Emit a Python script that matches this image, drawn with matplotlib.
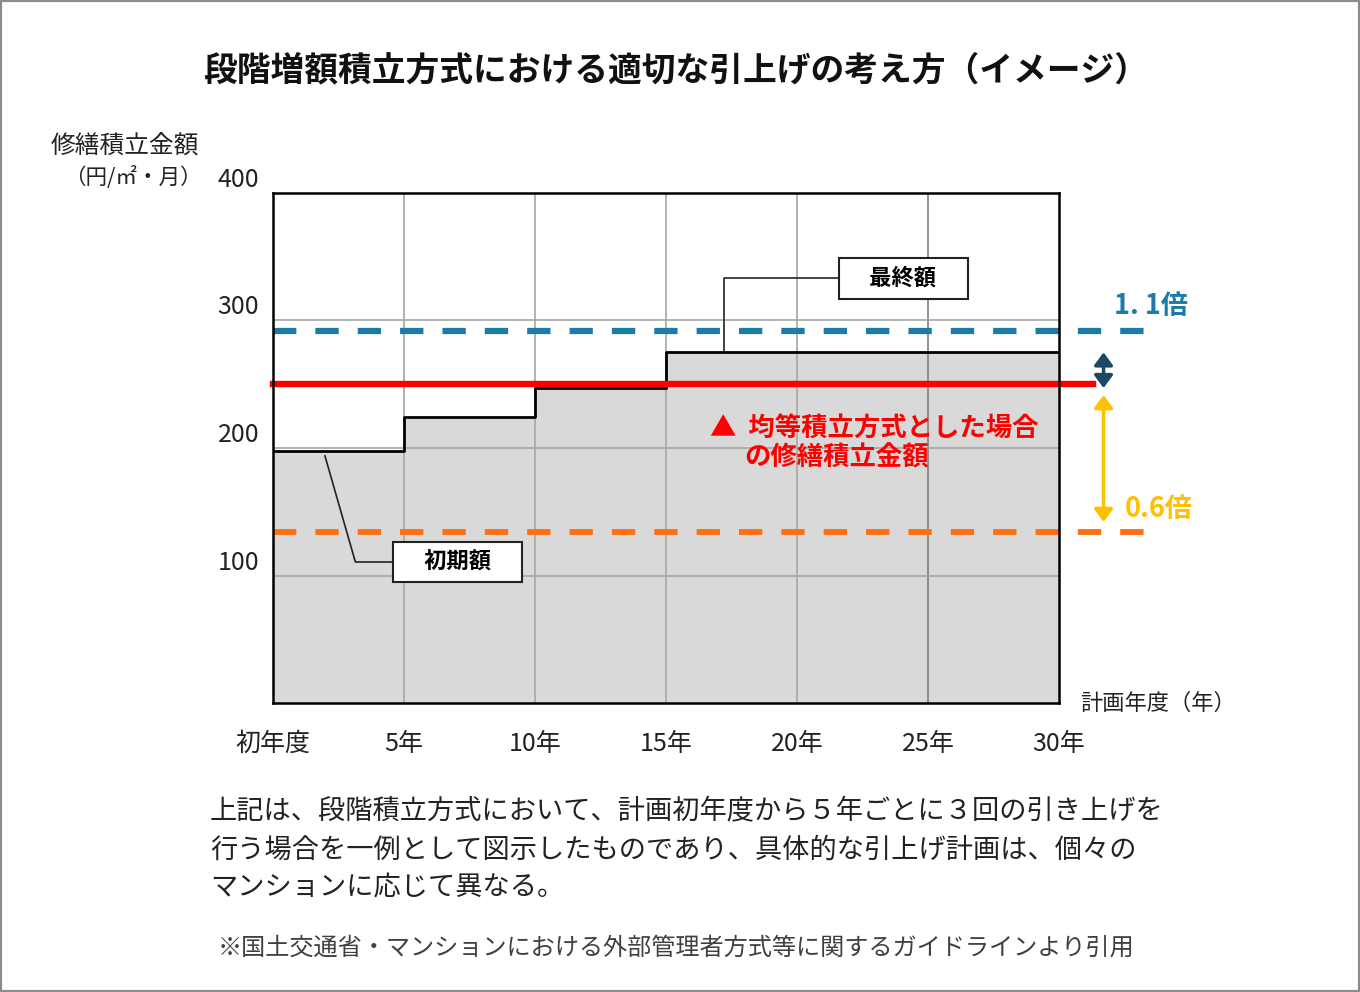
import matplotlib.pyplot as plt
from matplotlib.patches import Rectangle

plt.rcParams["font.family"] = ["Noto Sans CJK JP", "DejaVu Sans"]
plt.rcParams["lines.scale_dashes"] = False

# data
years = [0, 5, 10, 15, 30]
stepped_amount = [198, 224, 247, 275, 275]
equal_amount = 250
upper_level = 292   # 1.1倍
lower_level = 134   # 0.6倍
x_ticks = [0, 5, 10, 15, 20, 25, 30]
x_labels = ["初年度", "5年", "10年", "15年", "20年", "25年", "30年"]
y_ticks = [100, 200, 300, 400]
y_labels = ["100", "200", "300", "400"]

title = "段階増額積立方式における適切な引上げの考え方（イメージ）"
note_lines = [
    "上記は、段階積立方式において、計画初年度から５年ごとに３回の引き上げを",
    "行う場合を一例として図示したものであり、具体的な引上げ計画は、個々の",
    "マンションに応じて異なる。",
]
source = "※国土交通省・マンションにおける外部管理者方式等に関するガイドラインより引用"

BLUE = "#1c7ca5"
ORANGE = "#ff6f0f"
RED = "#ff0000"
YELLOW = "#ffc000"
NAVY = "#1b4965"

fig = plt.figure(figsize=(13.6, 9.92), dpi=100)
ax = fig.add_axes([273 / 1360, 1 - 703 / 992, 786 / 1360, 510 / 992])
ax.set_xlim(0, 30)
ax.set_ylim(0, 400)

# stepped amount
ax.fill_between(years, stepped_amount, step="post", color="#d9d9d9", zorder=1)
ax.step(years, stepped_amount, where="post", color="black", lw=2, zorder=4)

# grid
for x in x_ticks[1:-1]:
    ax.axvline(x, color="#7f7f7f" if x == 25 else "#a6a6a6", lw=1.2, zorder=2)
for y in y_ticks[:-1]:
    ax.axhline(y, color="#a6a6a6", lw=1.2, zorder=2)

# reference lines, extended past the right edge
ax.plot([0, 33.3], [upper_level] * 2, color=BLUE, lw=4.5, dashes=(16.8, 13.7),
        clip_on=False, zorder=5)
ax.plot([0, 33.3], [lower_level] * 2, color=ORANGE, lw=4.2, dashes=(16.8, 13.7),
        clip_on=False, zorder=5)
ax.plot([0, 31.3], [equal_amount] * 2, color=RED, lw=4.6, clip_on=False, zorder=6)

# double arrows
ax.annotate("", xy=(31.7, equal_amount - 3), xytext=(31.7, stepped_amount[-1]),
            arrowprops=dict(arrowstyle="<|-|>,head_length=0.38,head_width=0.28",
                            color=NAVY, lw=2.5, shrinkA=0, shrinkB=0,
                            mutation_scale=20),
            annotation_clip=False)
ax.annotate("", xy=(31.7, lower_level + 8), xytext=(31.7, equal_amount - 8.5),
            arrowprops=dict(arrowstyle="<|-|>,head_length=0.38,head_width=0.28",
                            color=YELLOW, lw=2.5, shrinkA=0, shrinkB=0,
                            mutation_scale=20),
            annotation_clip=False)
ax.text(32.1, 311, "1. 1倍", color=BLUE, fontsize=19.5, fontweight="bold",
        va="center", ha="left", clip_on=False)
ax.text(32.5, 152, "0.6倍", color=YELLOW, fontsize=19.5, fontweight="bold",
        va="center", ha="left", clip_on=False)

# callouts
box = dict(boxstyle="square,pad=0.4", fc="white", ec="#222222", lw=1.5)
ax.annotate("　最終額　", xy=(17.2, stepped_amount[-1]), xytext=(24.05, 333),
            fontsize=16, fontweight="bold", ha="center", va="center", bbox=box,
            arrowprops=dict(arrowstyle="-", color="#222222", lw=1.2, shrinkA=0, shrinkB=0,
                            connectionstyle="angle,angleA=0,angleB=90,rad=0"),
            zorder=7)
ax.annotate("　初期額　", xy=(1.98, 194), xytext=(7.06, 110.6),
            fontsize=16, fontweight="bold", ha="center", va="center", bbox=box,
            arrowprops=dict(arrowstyle="-", color="#222222", lw=1.2, shrinkA=0, shrinkB=0,
                            connectionstyle="angle,angleA=0,angleB=-74,rad=0"),
            zorder=7)

ax.text(16.68, 215.7, "▲  均等積立方式とした場合", color=RED, fontsize=19,
        fontweight="bold", va="center", ha="left", zorder=7)
ax.text(18.0, 192.2, "の修繕積立金額", color=RED, fontsize=19,
        fontweight="bold", va="center", ha="left", zorder=7)

# axes styling
for s in ax.spines.values():
    s.set_linewidth(1.8)
    s.set_color("black")
    s.set_zorder(8)
ax.set_xticks(x_ticks, x_labels, fontsize=18, color="#222222")
ax.set_yticks(y_ticks, y_labels, fontsize=18, color="#222222", va="bottom")
ax.tick_params(axis="x", length=0, pad=20)
ax.tick_params(axis="y", length=0, pad=10)
ax.get_xticklabels()[0].set_x(0.2)

# figure texts
fig.text(676 / 1360, 1 - 70 / 992, title, fontsize=24.3, fontweight="bold",
         ha="center", va="center", color="#111111")
fig.text(125 / 1360, 1 - 147 / 992, "修繕積立金額", fontsize=17.8, ha="center",
         va="center", color="#222222")
fig.text(133 / 1360, 1 - 178 / 992, "（円/㎡・月）", fontsize=15.5, ha="center",
         va="center", color="#222222")
fig.text(1080 / 1360, 1 - 703 / 992, "計画年度（年）", fontsize=16, ha="left",
         va="center", color="#222222")
for i, line in enumerate(note_lines):
    fig.text(210 / 1360, 1 - (812 + 38 * i) / 992, line, fontsize=19.6,
             ha="left", va="center", color="#222222")
fig.text(218 / 1360, 1 - 948 / 992, source, fontsize=17.4, ha="left",
         va="center", color="#404040")

fig.add_artist(Rectangle((0, 0), 1, 1, transform=fig.transFigure, fill=False,
                         ec="#8c8c8c", lw=3))

fig.savefig("out.png", dpi=100)
